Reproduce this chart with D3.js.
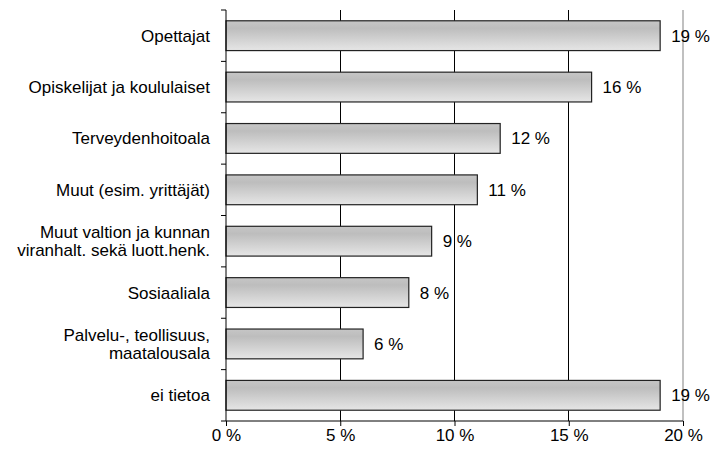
<!DOCTYPE html>
<html>
<head>
<meta charset="utf-8">
<script src="https://cdn.jsdelivr.net/npm/d3@7"></script>
<style>
  body { margin: 0; background: #fff; }
  text { font-family: "Liberation Sans", Arial, sans-serif; fill: #000; }
</style>
</head>
<body>
<svg class="chart"></svg>
<script>
var categories = [
  ["Opettajat"],
  ["Opiskelijat ja koululaiset"],
  ["Terveydenhoitoala"],
  ["Muut (esim. yrittäjät)"],
  ["Muut valtion ja kunnan", "viranhalt. sekä luott.henk."],
  ["Sosiaaliala"],
  ["Palvelu-, teollisuus,", "maatalousala"],
  ["ei tietoa"]
];
var values = [19, 16, 12, 11, 9, 8, 6, 19];
var tickValues = [0, 5, 10, 15, 20];

var fontSize = 17;

var margin = {top: 10, right: 38, bottom: 29, left: 226},
  width = 721 - margin.left - margin.right,
  height = 450 - margin.top - margin.bottom;

var svg = d3.select(".chart")
  .attr("width", 721)
  .attr("height", 450);

var defs = svg.append("defs");
var grad = defs.append("linearGradient")
  .attr("id", "barGrad")
  .attr("x1", 0).attr("y1", 0).attr("x2", 0).attr("y2", 1);
grad.append("stop").attr("offset", "0%").attr("stop-color", "#c6c6c6");
grad.append("stop").attr("offset", "25%").attr("stop-color", "#bdbdbd");
grad.append("stop").attr("offset", "100%").attr("stop-color", "#e6e6e6");

var chart = svg.append("g")
  .attr("transform", "translate(" + margin.left + "," + margin.top + ")");

var x = d3.scaleLinear().domain([0, 20]).range([0, width]);
var y = d3.scaleBand()
  .domain(d3.range(categories.length))
  .range([0, height])
  .paddingInner(0.42)
  .paddingOuter(0.21);

// gridlines
chart.append("g")
  .selectAll("line")
  .data(tickValues.slice(1))
  .enter().append("line")
  .attr("x1", function(d) { return x(d); })
  .attr("x2", function(d) { return x(d); })
  .attr("y1", 0)
  .attr("y2", height)
  .attr("stroke", function(d) { return d === 20 ? "#c0c0c0" : "#000"; })
  .attr("stroke-width", function(d) { return d === 20 ? 1.5 : 1; })
  .attr("shape-rendering", "crispEdges");

// bars
chart.selectAll(".bar")
  .data(values)
  .enter().append("rect")
  .attr("class", "bar")
  .attr("x", x(0))
  .attr("y", function(d, i) { return y(i); })
  .attr("width", function(d) { return x(d) - x(0); })
  .attr("height", y.bandwidth())
  .attr("fill", "url(#barGrad)")
  .attr("stroke", "#222")
  .attr("stroke-width", 1.2);

// value labels
chart.selectAll(".val")
  .data(values)
  .enter().append("text")
  .attr("class", "val")
  .attr("x", function(d) { return x(d) + 11; })
  .attr("y", function(d, i) { return y(i) + y.bandwidth() / 2; })
  .attr("dy", "0.35em")
  .style("font-size", fontSize + "px")
  .text(function(d) { return d + " %"; });

// x axis
var xAxis = d3.axisBottom(x)
  .tickValues(tickValues)
  .tickFormat(function(d) { return d + " %"; })
  .tickSize(5)
  .tickPadding(3);

var gx = chart.append("g")
  .attr("transform", "translate(0," + height + ")")
  .call(xAxis);
gx.select(".domain").attr("stroke", "#000").attr("d", "M0,0H" + width);
gx.selectAll(".tick line").attr("stroke", "#000");
gx.selectAll(".tick text")
  .style("font-size", fontSize + "px")
  .style("font-family", "Liberation Sans, Arial, sans-serif")
  .attr("fill", "#000");

// y axis (category boundaries as ticks)
var bounds = d3.range(categories.length + 1).map(function(i) {
  return i * height / categories.length;
});
var gy = chart.append("g");
gy.append("line")
  .attr("x1", 0).attr("x2", 0)
  .attr("y1", 0).attr("y2", height)
  .attr("stroke", "#000");
gy.selectAll(".ytick")
  .data(bounds)
  .enter().append("line")
  .attr("class", "ytick")
  .attr("x1", -5).attr("x2", 0)
  .attr("y1", function(d) { return d; })
  .attr("y2", function(d) { return d; })
  .attr("stroke", "#000");

// category labels
var lineH = 18.5;
chart.selectAll(".cat")
  .data(categories)
  .enter().append("text")
  .attr("class", "cat")
  .attr("text-anchor", "end")
  .attr("x", -16)
  .attr("y", function(d, i) { return y(i) + y.bandwidth() / 2 - (d.length - 1) * lineH / 2; })
  .style("font-size", fontSize + "px")
  .each(function(d) {
    var t = d3.select(this);
    d.forEach(function(line, j) {
      t.append("tspan")
        .attr("x", -16)
        .attr("dy", j === 0 ? "0.35em" : lineH + "px")
        .text(line);
    });
  });
</script>
</body>
</html>
